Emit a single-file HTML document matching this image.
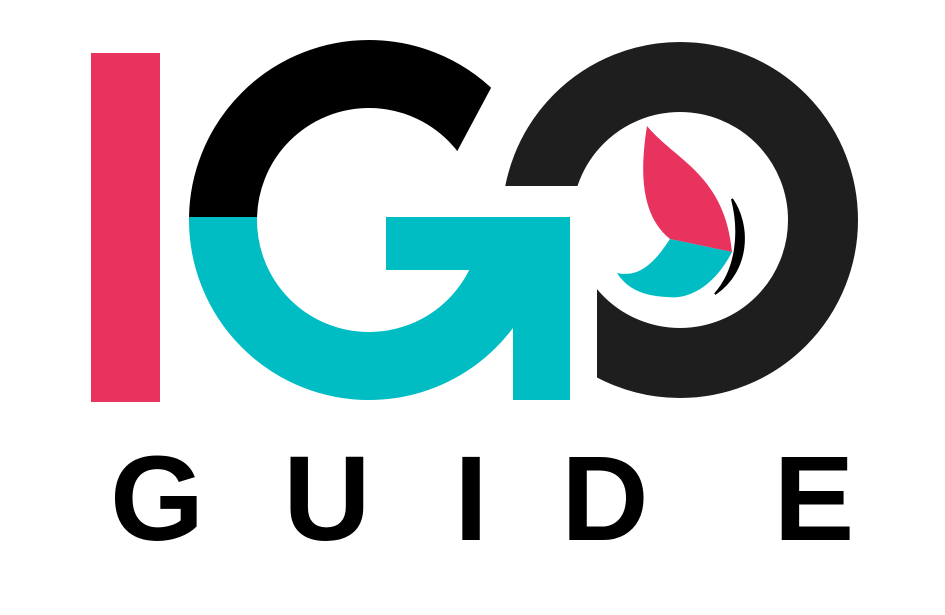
<!DOCTYPE html>
<html><head><meta charset="utf-8"><style>
html,body{margin:0;padding:0;background:#fff;}
svg{display:block;}
</style></head><body>
<svg width="945" height="615" viewBox="0 0 945 615">
<defs>
<clipPath id="gTop"><polygon points="150,30 522,30 422,217 150,217"/></clipPath>
<clipPath id="gBot"><rect x="150" y="217" width="363" height="200"/></clipPath>
<clipPath id="oClip"><rect x="480" y="20" width="400" height="166"/><rect x="597" y="20" width="300" height="400"/></clipPath>
</defs>
<rect x="91" y="53" width="69" height="349" fill="#e8335f"/>
<g>
<circle cx="369" cy="220" r="146" fill="none" stroke="#000" stroke-width="68" clip-path="url(#gTop)"/>
<circle cx="369" cy="220" r="146" fill="none" stroke="#00bcc3" stroke-width="68" clip-path="url(#gBot)"/>
<rect x="386" y="217" width="184" height="53" fill="#00bcc3"/>
<rect x="513" y="217" width="57" height="183" fill="#00bcc3"/>
</g>
<g>
<circle cx="680" cy="220" r="143" fill="none" stroke="#1e1e1e" stroke-width="70" clip-path="url(#oClip)"/>
</g>
<g>
<path d="M647,126 C675,160 725,175 732,252 L670,239 C640,215 640,170 647,126 Z" fill="#e8335f"/>
<path d="M670,239 L732,252 C715,285 690,300 667,297 C645,296 628,290 617,273 C640,278 655,262 670,239 Z" fill="#00bcc3"/>
<path d="M732,199 C750,225 750,270 715,294 C738,268 740,230 732,199 Z" fill="#000" stroke="#000" stroke-width="2"/>
</g>
<g font-family="'Liberation Sans', sans-serif" font-weight="bold" font-size="121" fill="#000" text-anchor="middle">
<text x="157" y="540">G</text>
<text x="327" y="540">U</text>
<text x="471" y="540">I</text>
<text x="605" y="540">D</text>
<text x="814" y="540">E</text>
</g>
</svg>
</body></html>
